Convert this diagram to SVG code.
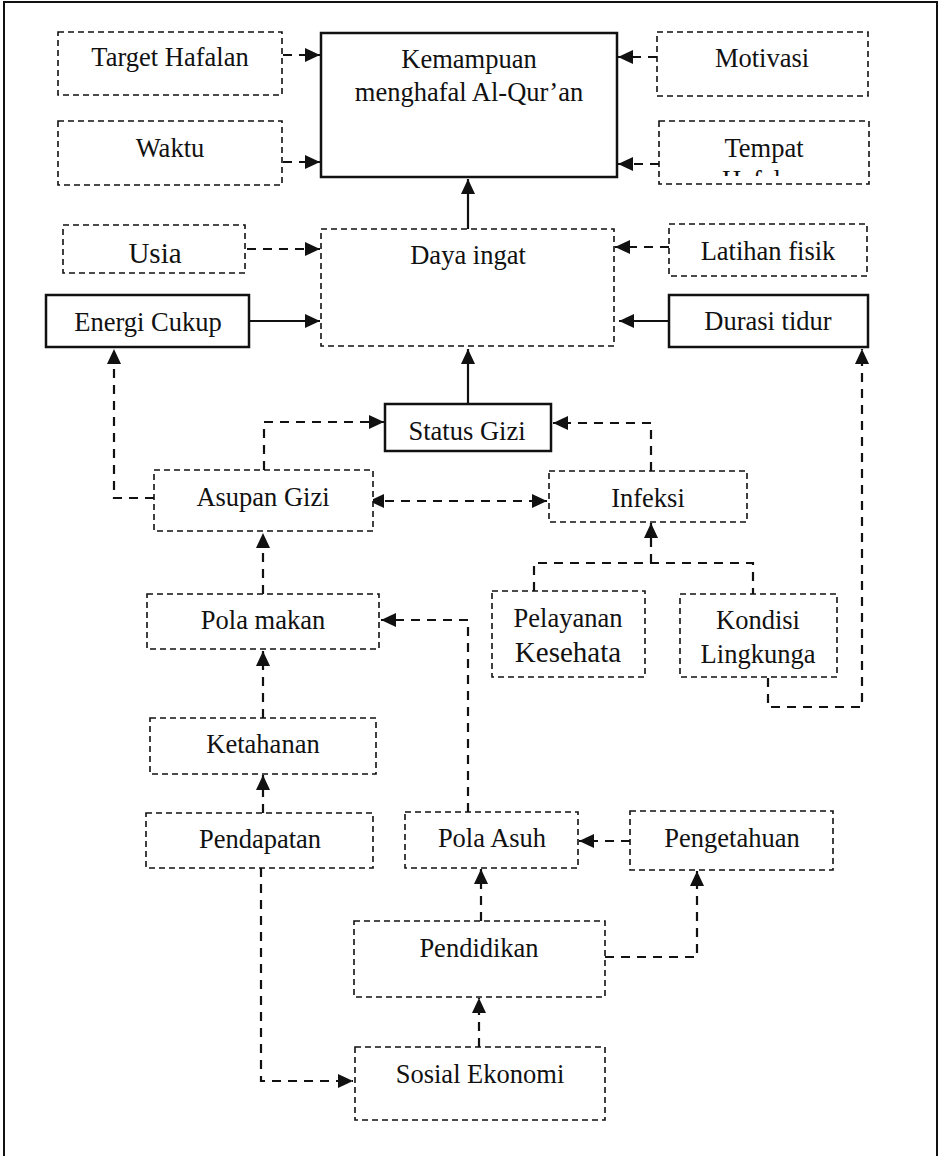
<svg xmlns="http://www.w3.org/2000/svg" width="943" height="1156" viewBox="0 0 943 1156">
<style>
text{font-family:"Liberation Serif","Times New Roman",serif;font-size:26.5px;fill:#111;text-anchor:middle}
.big{font-size:29px}
.db{fill:#fff;stroke:#111;stroke-width:1.6;stroke-dasharray:6 4}
.sb{fill:#fff;stroke:#111;stroke-width:2.5}
.dc{fill:none;stroke:#111;stroke-width:2.2;stroke-dasharray:9 7}
.sc{fill:none;stroke:#111;stroke-width:2.2}
</style>
<defs>
<marker id="ah" markerUnits="userSpaceOnUse" markerWidth="17" markerHeight="15" refX="15" refY="7" orient="auto-start-reverse"><path d="M0,0 L15,7 L0,14 z" fill="#111"/></marker>
<clipPath id="tclip"><rect x="659" y="121" width="210" height="55"/></clipPath>
</defs>
<rect x="4" y="2" width="933" height="1170" fill="none" stroke="#111" stroke-width="2"/>
<g id="connectors">
<path class="dc" d="M283,55 H320" marker-end="url(#ah)"/>
<path class="dc" d="M283,162 H320" marker-end="url(#ah)"/>
<path class="dc" d="M657,57 H618" marker-end="url(#ah)"/>
<path class="dc" d="M659,164 H618" marker-end="url(#ah)"/>
<path class="sc" d="M468,229 V179" marker-end="url(#ah)"/>
<path class="dc" d="M247,249 H320" marker-end="url(#ah)"/>
<path class="sc" d="M250,321 H320" marker-end="url(#ah)"/>
<path class="dc" d="M669,247 H615" marker-end="url(#ah)"/>
<path class="sc" d="M669,321 H619" marker-end="url(#ah)"/>
<path class="sc" d="M468,404 V349" marker-end="url(#ah)"/>
<path class="dc" d="M264,470 V422 H384" marker-end="url(#ah)"/>
<path class="dc" d="M651,471 V423 H553" marker-end="url(#ah)"/>
<path class="dc" d="M154,498 H114 V349" marker-end="url(#ah)"/>
<path class="dc" d="M369,501 H547" marker-start="url(#ah)" marker-end="url(#ah)"/>
<path class="dc" d="M534,591 V563 H753 V594"/>
<path class="dc" d="M651,563 V523" marker-end="url(#ah)"/>
<path class="dc" d="M768,678 V707 H862 V349" marker-end="url(#ah)"/>
<path class="dc" d="M263,594 V533" marker-end="url(#ah)"/>
<path class="dc" d="M468,812 V620 H381" marker-end="url(#ah)"/>
<path class="dc" d="M263,718 V651" marker-end="url(#ah)"/>
<path class="dc" d="M263,813 V775" marker-end="url(#ah)"/>
<path class="dc" d="M261,868 V1081 H353" marker-end="url(#ah)"/>
<path class="dc" d="M630,841 H579" marker-end="url(#ah)"/>
<path class="dc" d="M481,921 V869" marker-end="url(#ah)"/>
<path class="dc" d="M605,957 H697 V871" marker-end="url(#ah)"/>
<path class="dc" d="M479,1047 V998" marker-end="url(#ah)"/>
</g>
<g id="target"><rect class="db" x="58" y="32" width="224" height="63"/><text x="170" y="66">Target Hafalan</text></g>
<g id="kemampuan"><rect class="sb" x="321" y="33" width="296" height="144"/><text x="469" y="68">Kemampuan</text><text x="469" y="101">menghafal Al-Qur’an</text></g>
<g id="motivasi"><rect class="db" x="657" y="32" width="211" height="64"/><text x="762" y="67">Motivasi</text></g>
<g id="waktu"><rect class="db" x="58" y="121" width="224" height="64"/><text x="170" y="157">Waktu</text></g>
<g id="tempat"><rect class="db" x="659" y="121" width="210" height="63"/><g clip-path="url(#tclip)"><text x="764" y="157">Tempat</text><text x="764" y="189">Hafalan</text></g></g>
<g id="usia"><rect class="db" x="63" y="225" width="182" height="48"/><text class="big" x="155" y="263">Usia</text></g>
<g id="daya"><rect class="db" x="321" y="229" width="293" height="117"/><text x="468" y="264">Daya ingat</text></g>
<g id="latihan"><rect class="db" x="669" y="224" width="198" height="52"/><text x="768" y="260">Latihan fisik</text></g>
<g id="energi"><rect class="sb" x="46" y="295" width="203" height="52"/><text x="148" y="331">Energi Cukup</text></g>
<g id="durasi"><rect class="sb" x="669" y="295" width="199" height="52"/><text x="768" y="330">Durasi tidur</text></g>
<g id="status"><rect class="sb" x="385" y="404" width="166" height="47"/><text x="467" y="440">Status Gizi</text></g>
<g id="asupan"><rect class="db" x="154" y="470" width="219" height="61"/><text x="263" y="506">Asupan Gizi</text></g>
<g id="infeksi"><rect class="db" x="549" y="471" width="198" height="51"/><text x="648" y="507">Infeksi</text></g>
<g id="pelayanan"><rect class="db" x="492" y="591" width="153" height="86"/><text x="568" y="627">Pelayanan</text><text class="big" x="568" y="662">Kesehata</text></g>
<g id="kondisi"><rect class="db" x="680" y="594" width="157" height="83"/><text x="758" y="629">Kondisi</text><text x="758" y="663">Lingkunga</text></g>
<g id="polamakan"><rect class="db" x="147" y="594" width="232" height="55"/><text x="263" y="629">Pola makan</text></g>
<g id="ketahanan"><rect class="db" x="150" y="718" width="226" height="56"/><text x="263" y="753">Ketahanan</text></g>
<g id="pendapatan"><rect class="db" x="146" y="813" width="227" height="55"/><text x="260" y="848">Pendapatan</text></g>
<g id="polaasuh"><rect class="db" x="405" y="812" width="173" height="56"/><text x="492" y="847">Pola Asuh</text></g>
<g id="pengetahuan"><rect class="db" x="630" y="811" width="203" height="59"/><text x="732" y="847">Pengetahuan</text></g>
<g id="pendidikan"><rect class="db" x="354" y="921" width="251" height="76"/><text x="479" y="957">Pendidikan</text></g>
<g id="sosial"><rect class="db" x="355" y="1047" width="250" height="73"/><text x="480" y="1083">Sosial Ekonomi</text></g>
</svg>
